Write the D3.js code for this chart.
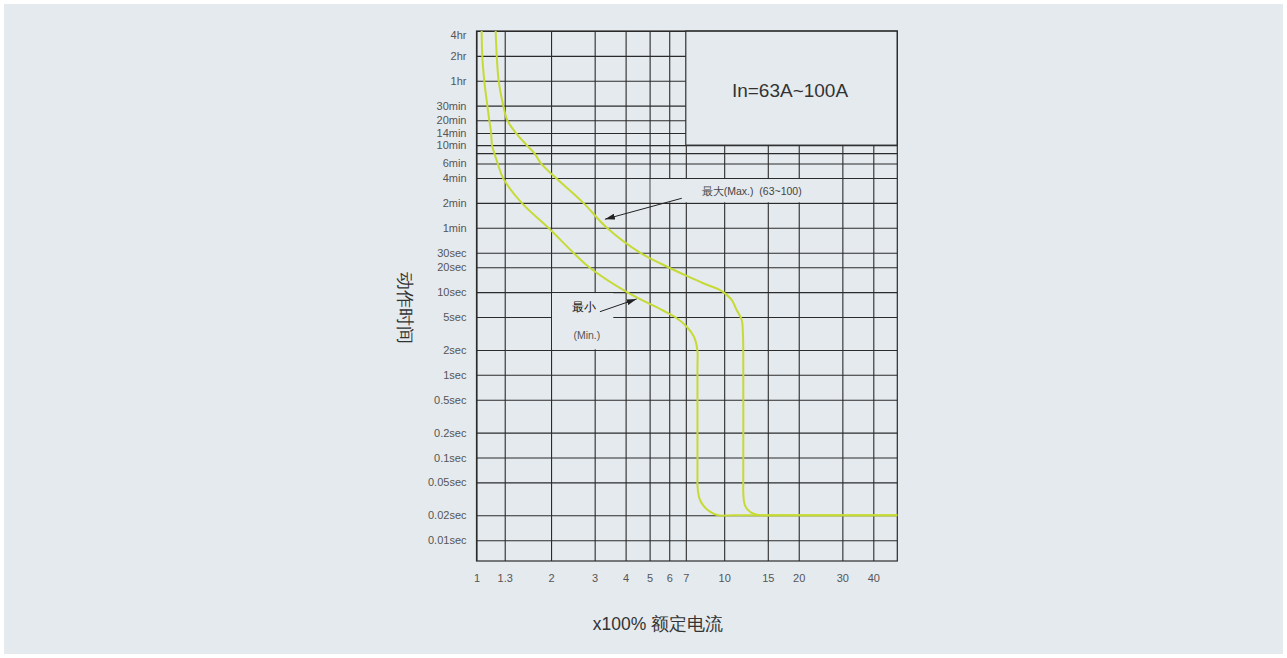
<!DOCTYPE html>
<html>
<head>
<meta charset="utf-8">
<script src="https://cdn.jsdelivr.net/npm/d3@7"></script>
<style>
  body { margin: 0; background: #fff; }
  svg { display: block; font-family: "Liberation Sans", Arial, sans-serif; }
</style>
</head>
<body>
<svg id="chart" width="1287" height="658"></svg>
<script>
"use strict"

// current multiples (x100% rated current)
const currentTicks = [1, 1.3, 2, 3, 4, 5, 6, 7, 10, 15, 20, 30, 40]
const currentLabels = ['1', '1.3', '2', '3', '4', '5', '6', '7', '10', '15', '20', '30', '40']

// trip times, seconds
const timeTicks = [14400, 7200, 3600, 1800, 1200, 840, 600, 480, 360, 240, 120, 60, 30, 20, 10, 5, 2, 1, 0.5, 0.2, 0.1, 0.05, 0.02, 0.01]
const timeLabels = ['4hr', '2hr', '1hr', '30min', '20min', '14min', '10min', '', '6min', '4min', '2min', '1min',
  '30sec', '20sec', '10sec', '5sec', '2sec', '1sec', '0.5sec', '0.2sec', '0.1sec', '0.05sec', '0.02sec', '0.01sec']

// [multiple, seconds]
const minCurve = [
  [1.049, 14400], [1.055, 7200], [1.075, 3600], [1.106, 1800], [1.126, 1200], [1.145, 860],
  [1.155, 600], [1.18, 480], [1.218, 360], [1.28, 240], [1.522, 120], [1.95, 60], [2.46, 30],
  [2.85, 20], [4.05, 10], [5.61, 6.08], [6.33, 5], [7.06, 3.82], [7.55, 2.89], [7.79, 2.0],
  [7.8, 1.2], [7.8, 0.06], [7.81, 0.0438], [7.95, 0.0318], [8.23, 0.0264], [8.76, 0.0221],
  [9.44, 0.02], [11, 0.02], [50, 0.02]
]
const maxCurve = [
  [1.195, 14400], [1.207, 7200], [1.229, 3600], [1.283, 1800], [1.331, 1200], [1.43, 870],
  [1.595, 600], [1.712, 480], [1.821, 360], [2.094, 240], [2.7, 120], [3.36, 60], [4.57, 30],
  [5.95, 20], [7.06, 15.7], [8.23, 12.8], [9.62, 10.6], [9.92, 10], [10.72, 8.04], [11.23, 6.08],
  [11.77, 4.6], [11.9, 3.2], [11.94, 2.3], [11.94, 0.05], [11.95, 0.0363], [12.13, 0.0264],
  [12.71, 0.0221], [13.95, 0.02], [16, 0.02], [50, 0.02]
]

const xDomain = [1, 50]
const yDomain = [14400, 0.0056]

const bg = '#e5eaee'
const ink = '#2b2b2b'
const curveColor = '#c6da36'

const svg = d3.select('#chart')
svg.append('rect').attr('x', 4).attr('y', 4).attr('width', 1279).attr('height', 650).attr('fill', bg)

const x = d3.scaleLog().domain(xDomain).range([476.5, 897.3])
const y = d3.scaleLog().domain(yDomain).range([31, 561])
const w = x.range()[1] - x.range()[0]
const h = y.range()[1] - y.range()[0]

// grid + tick labels via axes
const gy = svg.append('g').attr('transform', `translate(${x.range()[0]},0)`)
  .call(d3.axisLeft(y).tickValues(timeTicks).tickFormat((d, i) => timeLabels[i]).tickSize(-w).tickPadding(10))
const gx = svg.append('g').attr('transform', `translate(0,${y.range()[1]})`)
  .call(d3.axisBottom(x).tickValues(currentTicks).tickFormat((d, i) => currentLabels[i]).tickSize(-h).tickPadding(13))
for (const g of [gx, gy]) {
  g.select('.domain').remove()
  g.selectAll('line').attr('stroke', ink).attr('stroke-width', 1.1)
  g.selectAll('text').attr('fill', '#555').attr('font-size', 11).attr('font-family', '"Liberation Sans", Arial, sans-serif')
}
// top label sits just inside the frame
gy.selectAll('.tick text').filter(d => d === 14400).attr('dy', '0.7em')

// blank areas behind the annotations
const masks = [
  {x0: 5, x1: 30, t0: 240, t1: 120},
  {x0: 2, x1: 3.6, t0: 10, t1: 2},
]
svg.selectAll('rect.mask').data(masks).enter().append('rect')
  .attr('class', 'mask')
  .attr('x', d => x(d.x0) + 1)
  .attr('y', d => y(d.t0) + 1)
  .attr('width', d => x(d.x1) - x(d.x0) - 2)
  .attr('height', d => y(d.t1) - y(d.t0) - 1.6)
  .attr('fill', bg)

// rating inset
svg.append('rect')
  .attr('x', x(7)).attr('y', y(14400))
  .attr('width', x(50) - x(7)).attr('height', y(600) - y(14400))
  .attr('fill', bg).attr('stroke', ink).attr('stroke-width', 1.1)
svg.append('text').attr('x', x(18.44)).attr('y', y(2710))
  .attr('text-anchor', 'middle').attr('dominant-baseline', 'central')
  .attr('font-size', 19).attr('fill', '#333').text('In=63A~100A')

// frame
svg.append('rect').attr('x', x.range()[0]).attr('y', y.range()[0]).attr('width', w).attr('height', h)
  .attr('fill', 'none').attr('stroke', ink).attr('stroke-width', 1.2)

// curves
const line = d3.line().x(d => x(d[0])).y(d => y(d[1])).curve(d3.curveCatmullRom.alpha(0.5))
svg.selectAll('path.trip').data([minCurve, maxCurve]).enter().append('path')
  .attr('class', 'trip')
  .attr('d', line)
  .attr('fill', 'none').attr('stroke', curveColor).attr('stroke-width', 2)

// arrows
svg.append('defs').append('marker')
  .attr('id', 'head').attr('viewBox', '0 0 10 6').attr('refX', 10).attr('refY', 3)
  .attr('markerWidth', 10).attr('markerHeight', 6).attr('markerUnits', 'userSpaceOnUse').attr('orient', 'auto')
  .append('path').attr('d', 'M0,0L10,3L0,6Z').attr('fill', '#222')
const arrows = [
  {from: [6.74, 136.5], to: [3.30, 76.1]},
  {from: [3.15, 5.8], to: [4.43, 8.26]},
]
svg.selectAll('line.arrow').data(arrows).enter().append('line')
  .attr('class', 'arrow')
  .attr('x1', d => x(d.from[0])).attr('y1', d => y(d.from[1]))
  .attr('x2', d => x(d.to[0])).attr('y2', d => y(d.to[1]))
  .attr('stroke', '#222').attr('stroke-width', 1).attr('marker-end', 'url(#head)')

const notes = [
  {v: 12.92, t: 168.7, text: '最大(Max.)  (63~100)', size: 10.5, color: '#444'},
  {v: 2.72, t: 6.67, text: '最小', size: 11.5, color: '#111'},
  {v: 2.79, t: 3.03, text: '(Min.)', size: 10.5, color: '#555'},
]
svg.selectAll('text.note').data(notes).enter().append('text')
  .attr('class', 'note')
  .attr('x', d => x(d.v)).attr('y', d => y(d.t))
  .attr('text-anchor', 'middle').attr('dominant-baseline', 'central')
  .attr('font-size', d => d.size).attr('fill', d => d.color)
  .style('white-space', 'pre')
  .text(d => d.text)

// axis titles
svg.append('text').attr('transform', 'translate(405,308) rotate(90)')
  .attr('text-anchor', 'middle').attr('dominant-baseline', 'central')
  .attr('font-size', 17.5).attr('fill', '#333').text('动作时间')
svg.append('text').attr('x', 658).attr('y', 624)
  .attr('text-anchor', 'middle').attr('dominant-baseline', 'central')
  .attr('font-size', 17.5).attr('fill', '#333').text('x100% 额定电流')
</script>
</body>
</html>
